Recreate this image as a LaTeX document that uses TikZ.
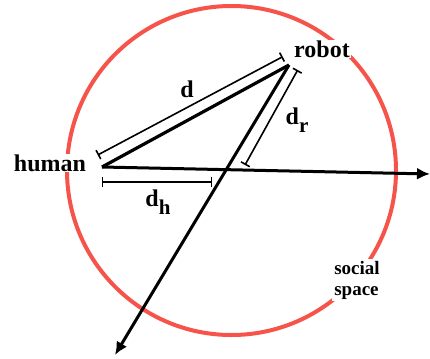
\documentclass[tikz,border=0pt]{standalone}
\usepackage{fontspec}
\setmainfont{Liberation Serif}[BoldFont={Liberation Serif Bold}]
\newfontfamily\tnrbold{Liberation Serif Bold}
\usetikzlibrary{arrows.meta}
\definecolor{coral}{RGB}{246,84,74}
\tikzset{
  thickline/.style={line width=3.2pt},
  dimline/.style={line width=1.6pt,{Bar[width=10pt,line width=1.6pt]}-{Bar[width=10pt,line width=1.6pt]}},
  arrowline/.style={line width=3pt,-{Latex[length=13pt,width=12pt]}},
  bigtext/.style={font=\tnrbold\fontsize{24}{28}\selectfont,inner sep=1pt},
  smalltext/.style={font=\tnrbold\fontsize{19}{24}\selectfont,align=left,fill=white,inner sep=2pt},
}
\newcommand{\subtx}[1]{\raisebox{-8pt}{\fontsize{21}{21}\selectfont #1}}
\begin{document}
\begin{tikzpicture}[x=1pt,y=-1pt]
\useasboundingbox (0,0) rectangle (430,358);
\draw[coral,line width=4pt] (231.5,170.5) circle[radius=164.5];
\coordinate (H) at (102,167);
\coordinate (R) at (289,65);
\coordinate (E) at (430,174);
\coordinate (D) at (115,355);
\coordinate (d1) at (97.7,155);
\coordinate (d2) at (282.7,56.7);
\coordinate (r1) at (297.7,70);
\coordinate (r2) at (245,165);
\coordinate (h1) at (101.7,181.7);
\coordinate (h2) at (212.3,181.7);
\node[bigtext,fill=white] (human) at (50,163) {human};
\node[bigtext,fill=white] (robot) at (322,49) {robot};
\node[smalltext] (social) at (357,280) {social\\[-3pt]space};
\draw[thickline] (H) -- (R);
\draw[arrowline] (H) -- (E);
\draw[arrowline] (R) -- (D);
\draw[dimline] (d1) -- (d2);
\draw[dimline] (r1) -- (r2);
\draw[dimline] (h1) -- (h2);
\node[bigtext] (dlabel) at (187,89) {d};
\node[bigtext] (drlabel) at (297,120) {d\subtx{r}};
\node[bigtext] (dhlabel) at (158,202) {d\subtx{h}};
\end{tikzpicture}
\end{document}
